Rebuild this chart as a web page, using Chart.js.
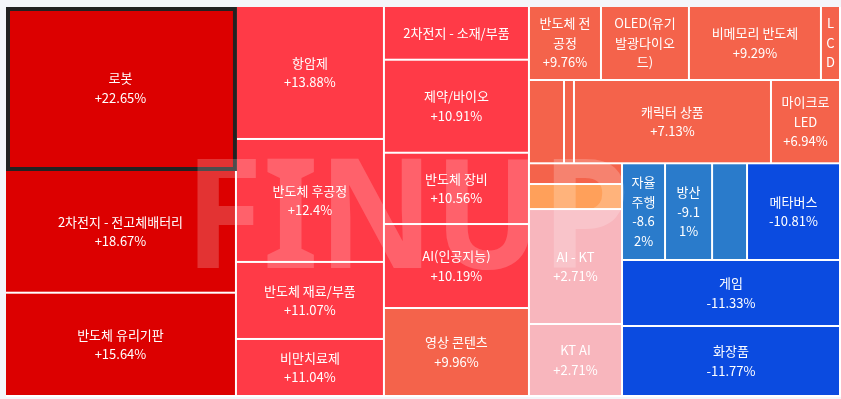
<!DOCTYPE html>
<html>
<head>
<meta charset="utf-8">
<script src="https://cdn.jsdelivr.net/npm/chart.js@4.4.1/dist/chart.umd.min.js"></script>
<style>
  html, body { margin: 0; padding: 0; background: #f4f6fa; }
  #wrap { width: 841px; height: 399px; position: relative; }
</style>
</head>
<body>
<div id="wrap"><canvas id="treemap-canvas"></canvas></div>
<script>
/* 테마별 등락률 트리맵 — 셀 면적(가중치)은 그림에서 읽은 추정치 */
const THEMES = [
  "로봇", "2차전지 - 전고체배터리", "반도체 유리기판",
  "항암제", "반도체 후공정", "반도체 재료/부품", "비만치료제",
  "2차전지 - 소재/부품", "제약/바이오", "반도체 장비", "AI(인공지능)", "영상 콘텐츠",
  "반도체 전공정", "OLED(유기발광다이오드)", "비메모리 반도체", "LCD",
  "", "", "캐릭터 상품", "마이크로 LED",
  "", "", "AI - KT", "KT AI",
  "자율주행", "방산", "", "메타버스",
  "게임", "화장품"
];
const CHANGES = [
  22.65, 18.67, 15.64,
  13.88, 12.4, 11.07, 11.04,
  10.95, 10.91, 10.56, 10.19, 9.96,
  9.76, 9.5, 9.29, 9.2,
  8.4, 7.6, 7.13, 6.94,
  6.1, 4.2, 2.71, 2.71,
  -8.62, -9.11, -9.8, -10.81,
  -11.33, -11.77
];
const WEIGHTS = [
  378.8, 283.4, 238.6,
  196.8, 182.0, 114.0, 84.4,
  77.9, 134.9, 103.4, 121.8, 127.6,
  53.3, 65.1, 97.7, 14.1,
  29.2, 8.3, 164.1, 57.5,
  19.3, 23.3, 107.0, 67.0,
  41.6, 45.5, 33.8, 89.9,
  143.9, 152.6
];
// 스쿼리파이 배치에서 한 줄(열/행)에 들어가는 셀 수
const STRIPS = [3, 4, 5, 4, 4, 4, 4, 2];
const SELECTED = 0;

function colorFor(v) {
  if (v >= 15) return "#dc0000";
  if (v >= 10) return "#ff3a47";
  if (v >= 5) return "#f4634b";
  if (v >= 3) return "#ffa05a";
  if (v > 0) return "#f8b6bd";
  if (v > -10) return "#2a7bcb";
  return "#0b4be0";
}

function fmt(v) {
  return (v > 0 ? "+" : "-") + String(Math.abs(v)) + "%";
}

function wrapText(ctx, text, maxW) {
  const lines = [];
  let line = "";
  for (const ch of text) {
    const test = line + ch;
    if (line.trim() !== "" && ctx.measureText(test.trimEnd()).width > maxW) {
      lines.push(line.trim());
      line = ch === " " ? "" : ch;
    } else {
      line = test;
    }
  }
  if (line.trim()) lines.push(line.trim());
  return lines;
}

// 값 공간(0~1)에서 셀 사각형 계산
function layout(area) {
  const rects = [];
  let rect = { x0: 0, x1: 1, y0: 0, y1: 1 };
  let remaining = WEIGHTS.reduce((a, b) => a + b, 0);
  let idx = 0;
  STRIPS.forEach(function (n) {
    const items = WEIGHTS.slice(idx, idx + n);
    const gsum = items.reduce((a, b) => a + b, 0);
    const frac = gsum / remaining;
    const wPx = (rect.x1 - rect.x0) * area.w;
    const hPx = (rect.y1 - rect.y0) * area.h;
    if (wPx >= hPx) {
      const xe = rect.x0 + (rect.x1 - rect.x0) * frac;
      let y = rect.y0;
      items.forEach(function (v, k) {
        const yh = (rect.y1 - rect.y0) * v / gsum;
        rects[idx + k] = { x0: rect.x0, x1: xe, y0: y, y1: y + yh };
        y += yh;
      });
      rect = { x0: xe, x1: rect.x1, y0: rect.y0, y1: rect.y1 };
    } else {
      const ye = rect.y0 + (rect.y1 - rect.y0) * frac;
      let x = rect.x0;
      items.forEach(function (v, k) {
        const xw = (rect.x1 - rect.x0) * v / gsum;
        rects[idx + k] = { x0: x, x1: x + xw, y0: rect.y0, y1: ye };
        x += xw;
      });
      rect = { x0: rect.x0, x1: rect.x1, y0: ye, y1: rect.y1 };
    }
    remaining -= gsum;
    idx += n;
  });
  return rects;
}

const treemapPlugin = {
  id: "treemapCells",
  beforeDatasetsDraw(chart) {
    const ctx = chart.ctx;
    const xs = chart.scales.x, ys = chart.scales.y;
    const ca = chart.chartArea;
    const rects = layout({ w: ca.right - ca.left, h: ca.bottom - ca.top });
    const GAP = 2, PAD_NAME = 7.5, PAD_PCT = 8.6, PAD_Y = 6.5, LH = 19.5;

    ctx.save();
    ctx.fillStyle = "#ffffff";
    ctx.fillRect(ca.left, ca.top, ca.right - ca.left, ca.bottom - ca.top);

    const px = rects.map(function (r) {
      const x0 = xs.getPixelForValue(r.x0), x1 = xs.getPixelForValue(r.x1);
      const y0 = ys.getPixelForValue(r.y0), y1 = ys.getPixelForValue(r.y1);
      return { x0: x0, y0: y0, x1: x1, y1: y1 };
    });

    px.forEach(function (p, i) {
      ctx.fillStyle = colorFor(CHANGES[i]);
      ctx.fillRect(p.x0, p.y0, p.x1 - p.x0 - GAP, p.y1 - p.y0 - GAP);
    });

    // 선택된 셀 테두리
    const s = px[SELECTED];
    ctx.strokeStyle = "#222222";
    ctx.lineWidth = 4;
    ctx.strokeRect(s.x0 + 2, s.y0 + 2, s.x1 - s.x0 - 4, s.y1 - s.y0 - 4);

    // 워터마크
    ctx.save();
    ctx.globalAlpha = 0.2;
    ctx.fillStyle = "#ffffff";
    ctx.font = 'bold 152px "Noto Sans"';
    ctx.textBaseline = "alphabetic";
    ctx.textAlign = "left";
    const m = ctx.measureText("FINUP");
    const inkW = m.actualBoundingBoxLeft + m.actualBoundingBoxRight;
    const sx = 428 / inkW;
    ctx.translate(197 + m.actualBoundingBoxLeft * sx, 268);
    ctx.scale(sx, 1);
    ctx.fillText("FINUP", 0, 0);
    ctx.restore();

    // 라벨
    ctx.font = '13px "Noto Sans CJK KR"';
    ctx.fillStyle = "#ffffff";
    ctx.textAlign = "center";
    ctx.textBaseline = "middle";
    px.forEach(function (p, i) {
      const name = THEMES[i];
      if (!name) return;
      const w = p.x1 - p.x0 - GAP, h = p.y1 - p.y0 - GAP;
      const avH = h - 2 * PAD_Y;
      const nameLines = wrapText(ctx, name, w - 2 * PAD_NAME);
      const pctLines = wrapText(ctx, fmt(CHANGES[i]), w - 2 * PAD_PCT);
      if (nameLines.length * LH > avH) return;
      let lines = nameLines;
      if ((nameLines.length + pctLines.length) * LH <= avH) lines = nameLines.concat(pctLines);
      const cx = p.x0 + w / 2, cy = p.y0 + h / 2;
      const startY = cy - (lines.length - 1) * LH / 2;
      lines.forEach(function (t, k) {
        ctx.fillText(t, cx, startY + k * LH);
      });
    });
    ctx.restore();
  }
};

(function () {
  function run() {
    const canvas = document.getElementById("treemap-canvas");
    if (!canvas || !window.Chart) return;
    new Chart(canvas.getContext("2d"), {
      type: "scatter",
      data: { datasets: [{ data: [], pointRadius: 0 }] },
      options: {
        responsive: true,
        maintainAspectRatio: false,
        animation: false,
        layout: { padding: { left: 6, top: 7, right: 0, bottom: 2 } },
        plugins: { legend: { display: false }, tooltip: { enabled: false } },
        scales: {
          x: { type: "linear", min: 0, max: 1, display: false },
          y: { type: "linear", min: 0, max: 1, reverse: true, display: false }
        }
      },
      plugins: [treemapPlugin]
    });
  }
  if (document.readyState === "loading") {
    document.addEventListener("DOMContentLoaded", run);
  } else {
    run();
  }
})();
</script>
</body>
</html>
